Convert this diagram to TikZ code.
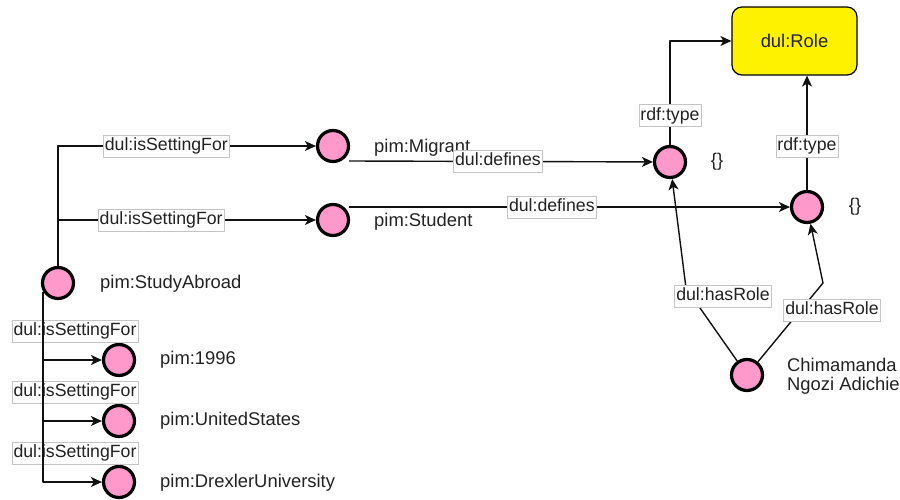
\documentclass[tikz,border=0pt]{standalone}
\usepackage{fontspec}
\setmainfont{Liberation Sans}
\usetikzlibrary{arrows.meta}
\definecolor{pinkfill}{HTML}{FF99CC}
\definecolor{txt}{HTML}{222222}
\definecolor{lblborder}{HTML}{C4C4C4}
\definecolor{linec}{HTML}{111111}
\begin{document}
\begin{tikzpicture}[x=1pt,y=-1pt,
  font=\fontsize{18.4}{20}\selectfont,
  inst/.style={circle,draw=black,fill=pinkfill,line width=3.2pt,minimum size=31pt,inner sep=0pt},
  iname/.style={text=txt,anchor=west,inner sep=0pt},
  lbl/.style={draw=lblborder,line width=0.8pt,fill=white,text=txt,inner xsep=1.5pt,inner ysep=0pt,
    minimum height=22pt,text height=13pt,text depth=4pt,font=\fontsize{17.7}{20}\selectfont},
  edge/.style={draw=linec,line width=1.4pt,line join=round,-{Stealth[length=11pt,width=10pt,inset=3pt]}},
  classbox/.style={rectangle,rounded corners=10pt,draw=black,line width=1.2pt,fill=yellow,
    minimum width=125pt,minimum height=68pt,text=txt}]
\useasboundingbox (0,0) rectangle (900,500);

% instances
\node[inst] (sa)  at (58,283)  {};
\node[inst] (mig) at (333,146) {};
\node[inst] (st)  at (333,220) {};
\node[inst] (y96) at (119,360) {};
\node[inst] (us)  at (119,421) {};
\node[inst] (dx)  at (119,482) {};
\node[inst] (r1)  at (670,162) {};
\node[inst] (r2)  at (807,207) {};
\node[inst] (ch)  at (747,375) {};
\node[classbox] (role) at (794.5,41) {dul:Role};

% instance names
\node[iname] (saN)  at (100,284) {pim:StudyAbroad};
\node[iname] (migN) at (374,148) {pim:Migrant};
\node[iname] (stN)  at (374,222) {pim:Student};
\node[iname] (y96N) at (160,360) {pim:1996};
\node[iname] (usN)  at (160,421) {pim:UnitedStates};
\node[iname] (dxN)  at (160,483) {pim:DrexlerUniversity};
\node[text=txt,inner sep=0pt] (r1N) at (717,162) {\{\}};
\node[text=txt,inner sep=0pt] (r2N) at (855,207) {\{\}};
\node[iname,align=left,font=\fontsize{18.4}{19.5}\selectfont] (chN) at (787,376) {Chimamanda\\Ngozi Adichie};

% settings of the study-abroad situation
\draw[edge] (sa) |- node[lbl,pos=0.71] (isf1) {dul:isSettingFor} (mig);
\draw[edge] (sa |- st) -- node[lbl,pos=0.40] (isf2) {dul:isSettingFor} (st);

\node[lbl] (isf3) at (75,331) {dul:isSettingFor};
\node[lbl] (isf4) at (75,392) {dul:isSettingFor};
\node[lbl] (isf5) at (75,453) {dul:isSettingFor};
\coordinate (sb) at (43,292);
\draw[edge] (sb) |- (dx);
\draw[edge] (sb |- y96) -- (y96);
\draw[edge] (sb |- us) -- (us);

% roles defined by the concepts
\coordinate (mo) at (349,161);
\coordinate (so) at (349,207);
\draw[edge] (mo) -- node[lbl,pos=0.49] (def1) {dul:defines} (r1);
\draw[edge] (so) -- node[lbl,pos=0.46] (def2) {dul:defines} (r2);

% role typing
\draw[edge] (r1) |- node[lbl,pos=0.14] (ty1) {rdf:type} (role);
\draw[edge] (r2.north) -- node[lbl,pos=0.38] (ty2) {rdf:type} (r2.north |- role.south);

% the person holding both roles
\coordinate (w1) at (686,288);
\coordinate (w2) at (823,283);
\draw[edge] (ch) -- (w1) -- (r1);
\draw[edge] (ch) -- (w2) -- (r2);
\node[lbl] (hr1) at (723,296) {dul:hasRole};
\node[lbl] (hr2) at (832,310) {dul:hasRole};
\end{tikzpicture}
\end{document}
